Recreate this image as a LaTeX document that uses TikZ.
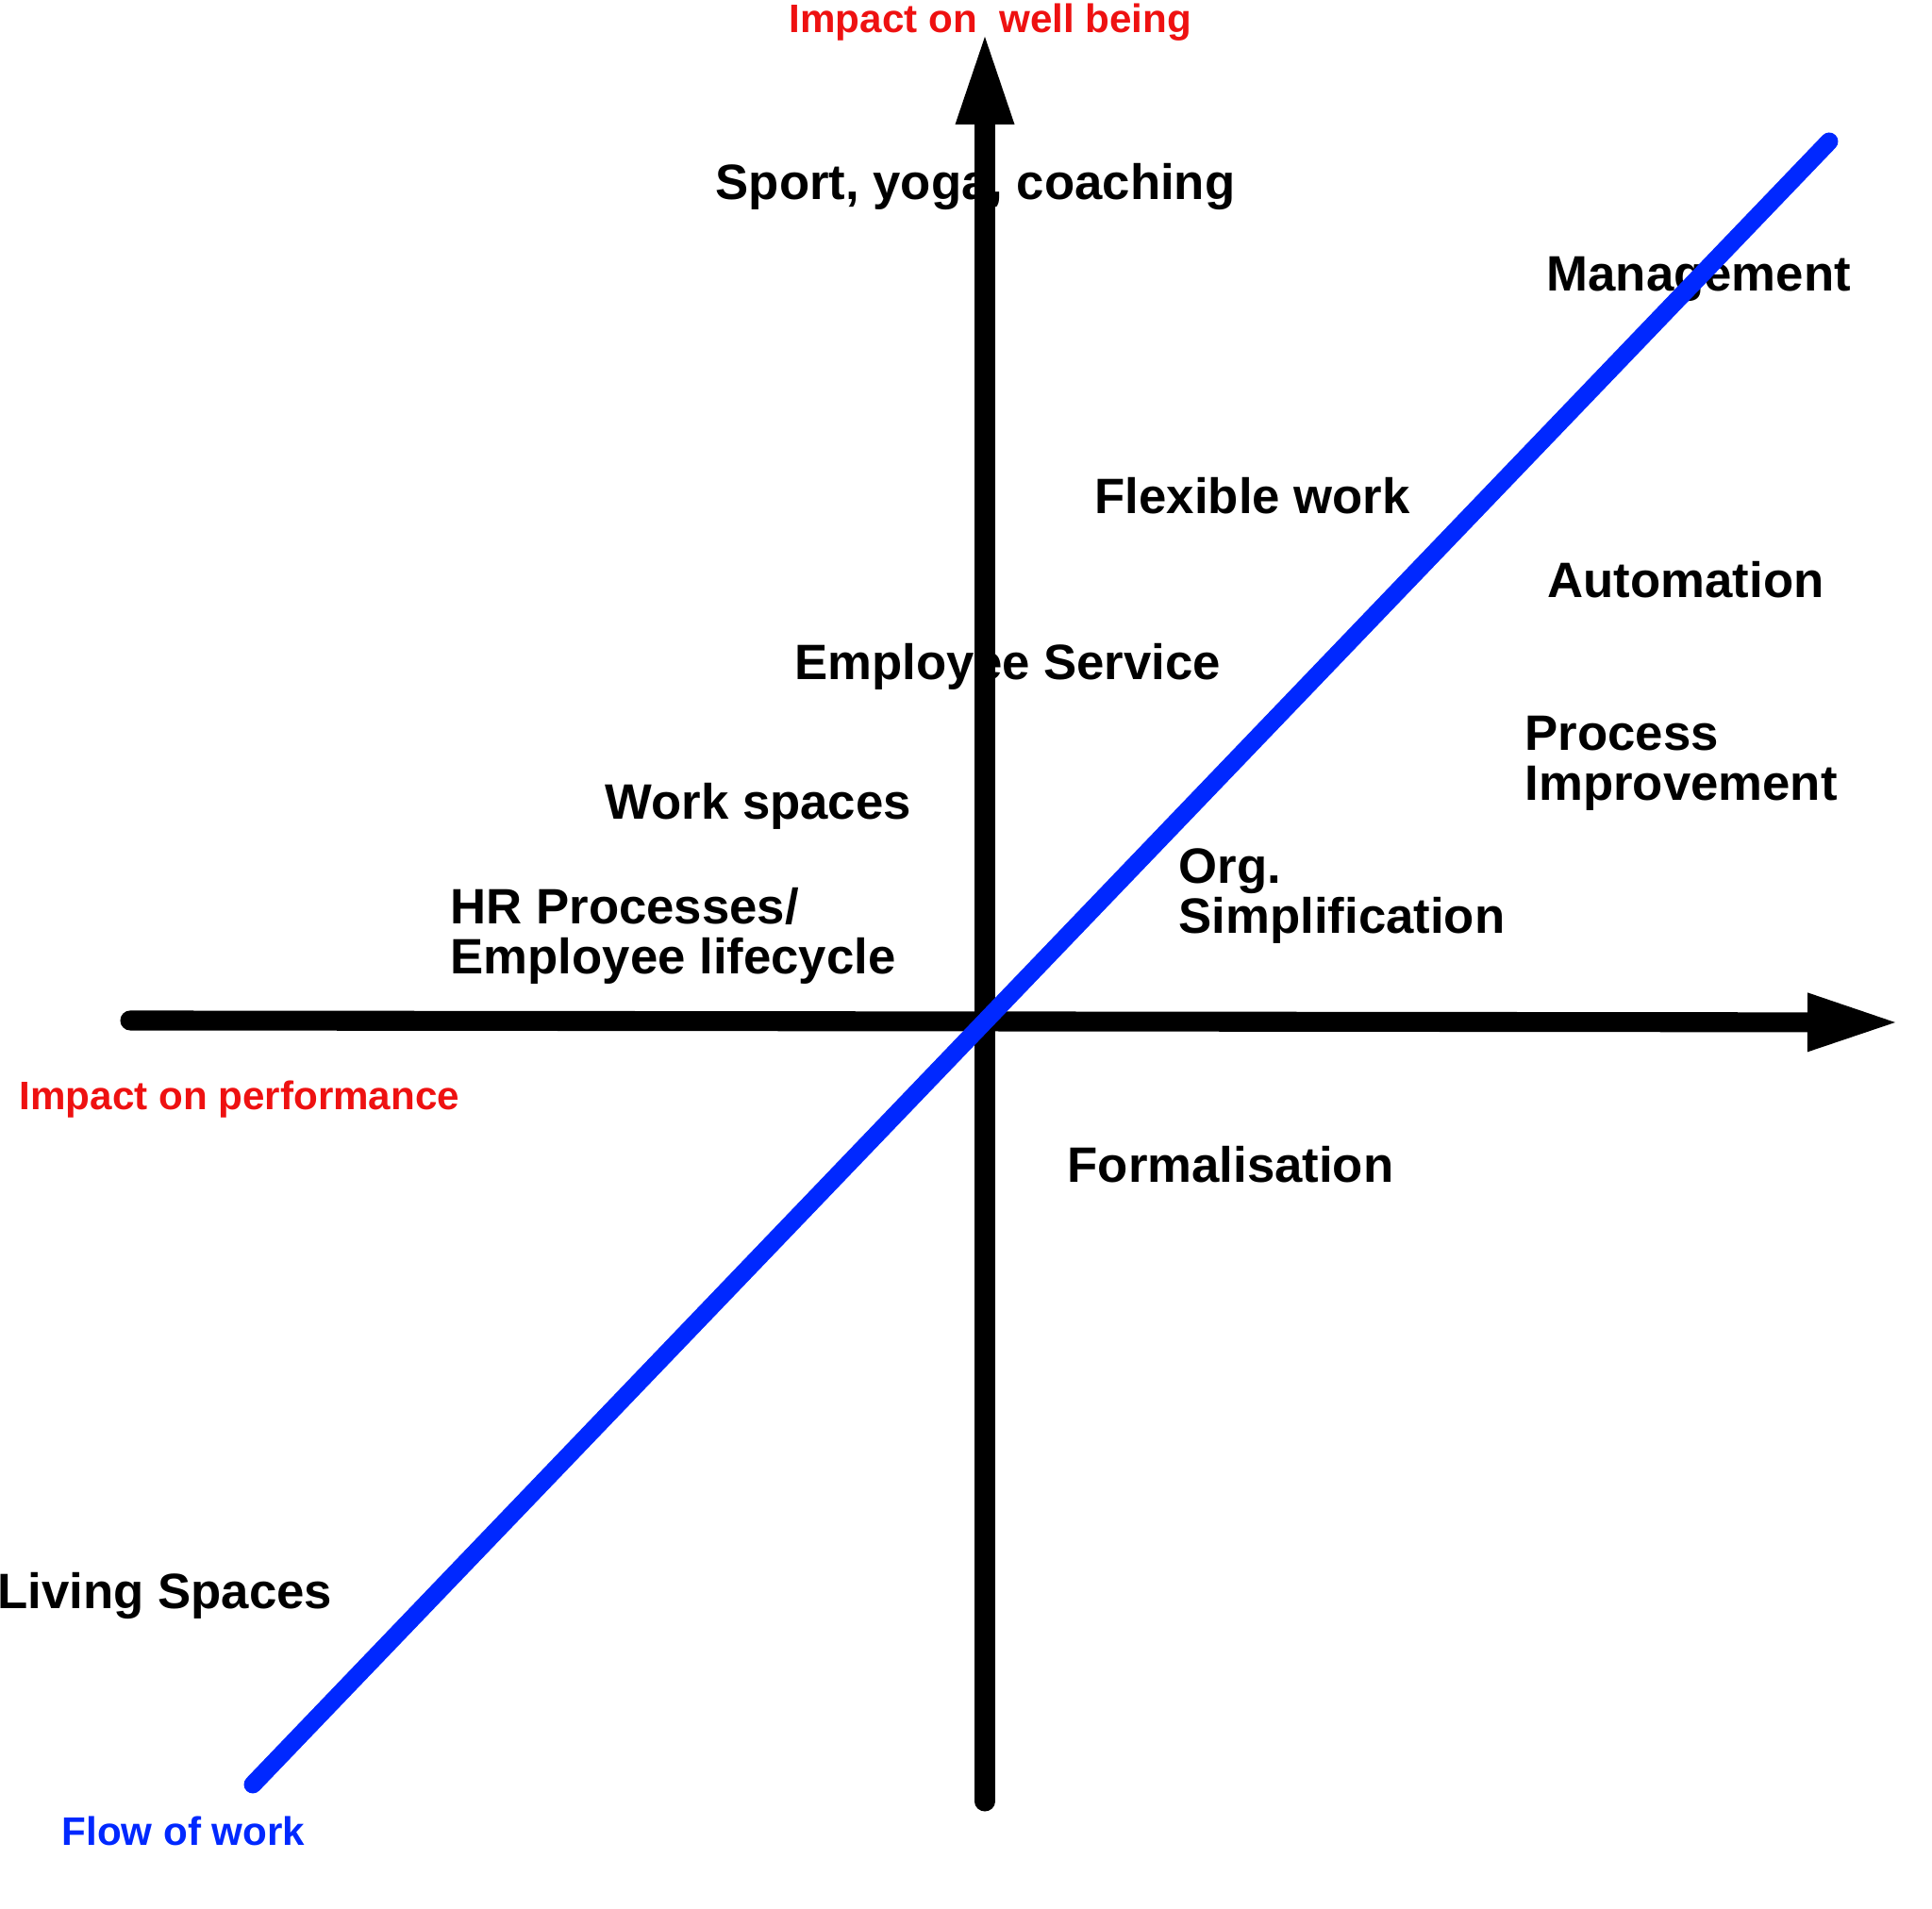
\documentclass[tikz,border=0pt]{standalone}
\usepackage{fontspec}
\setmainfont{Liberation Sans}
\usetikzlibrary{arrows.meta}
\definecolor{axisred}{HTML}{EE1111}
\definecolor{flowblue}{HTML}{0028FF}

\begin{document}
\begin{tikzpicture}[
        axis/.style={line width=6pt, line cap=round, -{Triangle[length=9.3mm, width=6.3mm, line width=0pt]}},
        flow/.style={line width=5.4pt, line cap=round, flowblue},
        item/.style={anchor=base west, inner sep=0pt, align=left, font=\fontsize{15pt}{15.2pt}\selectfont\bfseries},
        tag/.style={anchor=base west, inner sep=0pt, font=\fontsize{12pt}{12.2pt}\selectfont\bfseries}
    ]
        \useasboundingbox (0,0) rectangle (20.48,20.24);
        % Quadrant items (multi-line ones placed at their last baseline)
        \node[item] (sport) at (7.58,18.12) {Sport, yoga, coaching};
        \node[item] (mgmt) at (16.39,17.15) {Management};
        \node[item] (flex) at (11.60,14.79) {Flexible work};
        \node[item] (auto) at (16.40,13.90) {Automation};
        \node[item] (service) at (8.42,13.03) {Employee Service};
        \node[item] (process) at (16.16,11.75) {Process\\Improvement};
        \node[item] (workspace) at (6.41,11.55) {Work spaces};
        \node[item] (org) at (12.49,10.34) {Org.\\Simplification};
        \node[item] (hr) at (4.77,9.91) {HR Processes/\\Employee lifecycle};
        \node[item] (formal) at (11.31,7.70) {Formalisation};
        \node[item] (living) at (-0.03,3.18) {Living Spaces};
        % Axis labels
        \node[tag, axisred] (wellbeing) at (8.36,19.89) {Impact on~ well being};
        \node[tag, axisred] (perf) at (0.20,8.47) {Impact on performance};
        \node[tag, flowblue] (flowlbl) at (0.65,0.67) {Flow of work};
        % Axes
        \coordinate (vbot) at (10.44,1.14);
        \coordinate (vtop) at (10.44,19.85);
        \coordinate (hleft) at (1.38,9.42);
        \coordinate (hright) at (20.09,9.40);
        \draw[axis] (vbot) -- (vtop);
        \draw[axis] (hleft) -- (hright);
        % Flow of work line
        \coordinate (fstart) at (2.68,1.32);
        \coordinate (fend) at (19.39,18.74);
        \draw[flow] (fstart) -- (fend);
    \end{tikzpicture}
\end{document}
